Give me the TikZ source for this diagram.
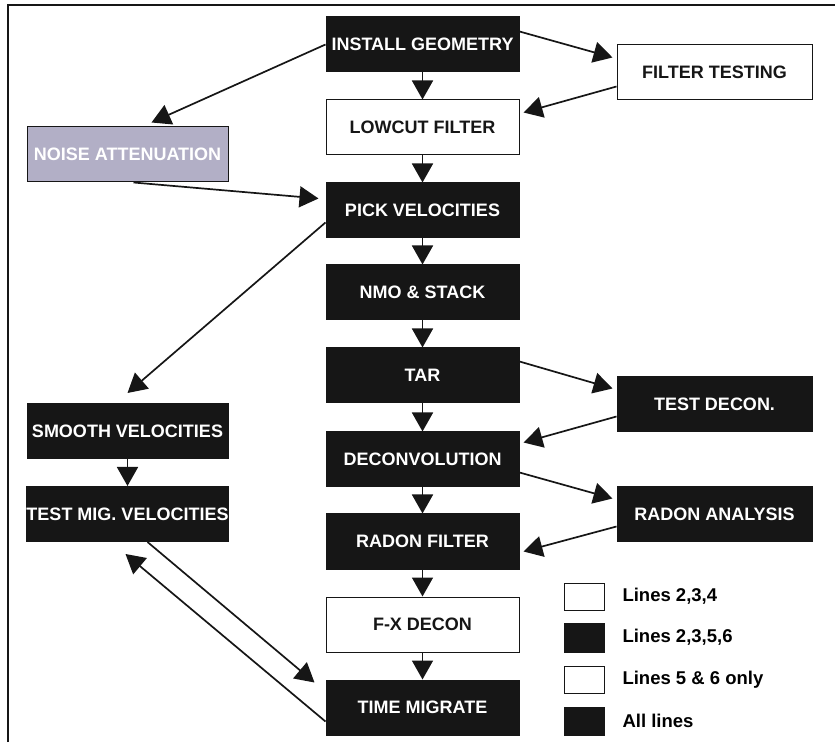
\documentclass[tikz,border=0pt]{standalone}
\usepackage{fontspec}
\setmainfont{Liberation Sans}
\usetikzlibrary{arrows.meta,calc,positioning}
\definecolor{boxblack}{RGB}{22,22,22}
\definecolor{noisegray}{RGB}{178,175,198}

\begin{document}
\begin{tikzpicture}[x=1pt,y=1pt,>={Triangle[length=19pt,width=21pt]},
  font=\bfseries\fontsize{18}{21}\selectfont,
  blackbox/.style={draw=boxblack,fill=boxblack,text=white,line width=1pt,
    minimum width=193pt,minimum height=55pt,inner sep=0pt},
  whitebox/.style={blackbox,fill=white,text=boxblack},
  sidebox/.style={blackbox,minimum width=195pt},
  leftbox/.style={blackbox,minimum width=201pt},
  keybox/.style={draw=boxblack,line width=1pt,minimum width=40pt,minimum height=27pt,inner sep=0pt},
  keytext/.style={anchor=west,font=\bfseries\fontsize{18.5}{21}\selectfont},
  flow/.style={->,line width=1.7pt,draw=boxblack}]
\useasboundingbox (0,0) rectangle (835,742);
% frame
\draw[line width=2pt,boxblack] (8,0) -- (8,737) -- (835,737);
% main column
\node[blackbox] (ig) at (422.5,697.5) {INSTALL GEOMETRY};
\node[whitebox] (lc) at (422.5,614.5) {LOWCUT FILTER};
\node[blackbox] (pv) at (422.5,531.5) {PICK VELOCITIES};
\node[blackbox] (nmo) at (422.5,449.5) {NMO \& STACK};
\node[blackbox] (tar) at (422.5,366.5) {TAR};
\node[blackbox] (dec) at (422.5,282.5) {DECONVOLUTION};
\node[blackbox] (rf) at (422.5,200.5) {RADON FILTER};
\node[whitebox] (fx) at (422.5,117.5) {F-X DECON};
\node[blackbox] (tm) at (422.5,34.5) {TIME MIGRATE};
% right column
\node[sidebox,fill=white,text=boxblack] (ft) at (714.5,669.5) {FILTER TESTING};
\node[sidebox] (td) at (714.5,337.5) {TEST DECON.};
\node[sidebox] (ra) at (714.5,227.5) {RADON ANALYSIS};
% left column
\node[leftbox,fill=noisegray,text=white] (na) at (127.5,587.5) {NOISE ATTENUATION};
\node[leftbox] (sv) at (127.5,311) {SMOOTH VELOCITIES};
\node[leftbox] (tmv) at (127.5,228) {TEST MIG. VELOCITIES};
% straight down
\foreach \a/\b in {ig/lc,lc/pv,pv/nmo,nmo/tar,tar/dec,dec/rf,rf/fx,fx/tm,sv/tmv}
  \draw[flow] (\a) -- (\b);
% side loops
\draw[flow] ([yshift=13pt]ig.east) -- ([xshift=-4pt,yshift=15pt]ft.west);
\draw[flow] ([yshift=-14pt]ft.west) -- ([xshift=4pt,yshift=15pt]lc.east);
\draw[flow] (ig.west) -- ([xshift=24pt,yshift=4pt]na.north);
\draw[flow] ([xshift=6pt]na.south) -- ([xshift=-7pt,yshift=12pt]pv.west);
\draw[flow] ([yshift=-12pt]pv.west) -- ([yshift=10pt]sv.north);
\draw[flow] ([yshift=14pt]tar.east) -- ([xshift=-4pt,yshift=16pt]td.west);
\draw[flow] ([yshift=-12pt]td.west) -- ([xshift=4pt,yshift=17pt]dec.east);
\draw[flow] ([yshift=-13pt]dec.east) -- ([xshift=-4pt,yshift=16pt]ra.west);
\draw[flow] ([yshift=-12pt]ra.west) -- ([xshift=4pt,yshift=-10pt]rf.east);
\draw[flow] ([xshift=20pt]tmv.south) -- ([xshift=-11pt,yshift=25pt]tm.west);
\draw[flow] ([yshift=-14pt]tm.west) -- ([xshift=-2pt,yshift=-12pt]tmv.south);
% key
\node[keybox,fill=white] (k1) at (584,145.5) {};
\node[keybox,fill=boxblack,minimum height=29pt] (k2) at (584,104.5) {};
\node[keybox,fill=white] (k3) at (584,62.5) {};
\node[keybox,fill=boxblack,minimum height=28pt] (k4) at (584,21) {};
\node[keytext] (t1) at (619,145.5) {Lines 2,3,4};
\node[keytext] (t2) at (619,104.5) {Lines 2,3,5,6};
\node[keytext] (t3) at (619,62.5) {Lines 5 \& 6 only};
\node[keytext] (t4) at (619,21) {All lines};
\end{tikzpicture}
\end{document}
